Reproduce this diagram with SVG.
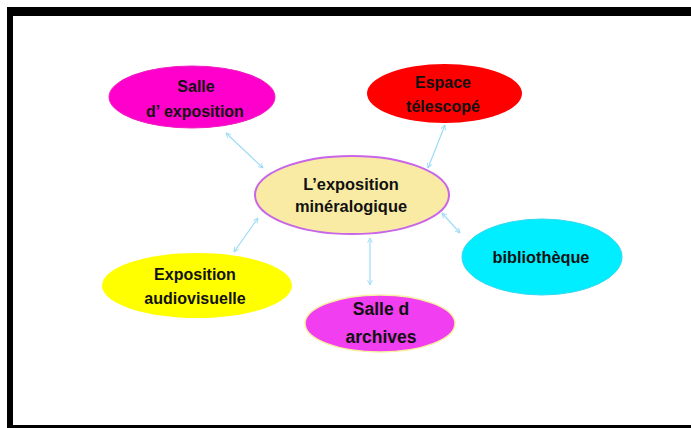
<svg xmlns="http://www.w3.org/2000/svg" width="691" height="428" viewBox="0 0 691 428">
<defs>
<style>
.lbl{font-family:"Liberation Sans",Arial,sans-serif;font-weight:bold;fill:#111;text-anchor:middle}
.con{stroke:#9edcf5;stroke-width:1.2;fill:none;marker-start:url(#ah);marker-end:url(#ah)}
</style>
<marker id="ah" viewBox="0 0 10 10" refX="9" refY="5" markerWidth="6" markerHeight="6" orient="auto-start-reverse" markerUnits="userSpaceOnUse">
<path d="M1,1 L9,5 L1,9" fill="none" stroke="#9edcf5" stroke-width="1.5"/>
</marker>
</defs>
<rect width="691" height="428" fill="#ffffff"/>
<g id="frame" fill="#000">
<rect x="7" y="7" width="684" height="9"/>
<rect x="7" y="7" width="6" height="421"/>
<rect x="7" y="425" width="684" height="3"/>
</g>
<g id="connectors">
<line class="con" x1="226" y1="133" x2="263" y2="168"/>
<line class="con" x1="445" y1="125" x2="428" y2="168"/>
<line class="con" x1="258" y1="218" x2="234" y2="252"/>
<line class="con" x1="442" y1="213" x2="460" y2="233"/>
<line class="con" x1="370" y1="238" x2="370" y2="285"/>
</g>
<g id="salle-exposition">
<ellipse cx="192" cy="97" rx="83" ry="31" fill="#ff00cc" stroke="#f020c0" stroke-width="1"/>
<text class="lbl" x="196" y="92" font-size="16">Salle</text>
<text class="lbl" x="195" y="117" font-size="16">d’ exposition</text>
</g>
<g id="espace-telescope">
<ellipse cx="444.5" cy="93.5" rx="77.5" ry="29.5" fill="#ff0000"/>
<text class="lbl" x="443" y="88" font-size="16">Espace</text>
<text class="lbl" x="443" y="112" font-size="16">télescopé</text>
</g>
<g id="exposition-mineralogique">
<ellipse cx="352" cy="195" rx="97" ry="39" fill="#f9eba4" stroke="#c865e8" stroke-width="2"/>
<text class="lbl" x="351" y="190" font-size="16.4">L’exposition</text>
<text class="lbl" x="351" y="212" font-size="16.4">minéralogique</text>
</g>
<g id="exposition-audiovisuelle">
<ellipse cx="197" cy="285.5" rx="95" ry="32.5" fill="#ffff00"/>
<text class="lbl" x="195" y="280" font-size="16">Exposition</text>
<text class="lbl" x="195" y="304" font-size="16">audiovisuelle</text>
</g>
<g id="salle-archives">
<ellipse cx="380" cy="323.5" rx="75" ry="28.5" fill="#f03ef0" stroke="#f6f0a0" stroke-width="1.5"/>
<text class="lbl" x="381" y="315" font-size="17.5">Salle d</text>
<text class="lbl" x="381" y="343" font-size="17.5">archives</text>
</g>
<g id="bibliotheque">
<ellipse cx="542" cy="257" rx="80" ry="38" fill="#00eeff" stroke="#30d8f0" stroke-width="1"/>
<text class="lbl" x="541" y="263" font-size="16.3">bibliothèque</text>
</g>
</svg>
